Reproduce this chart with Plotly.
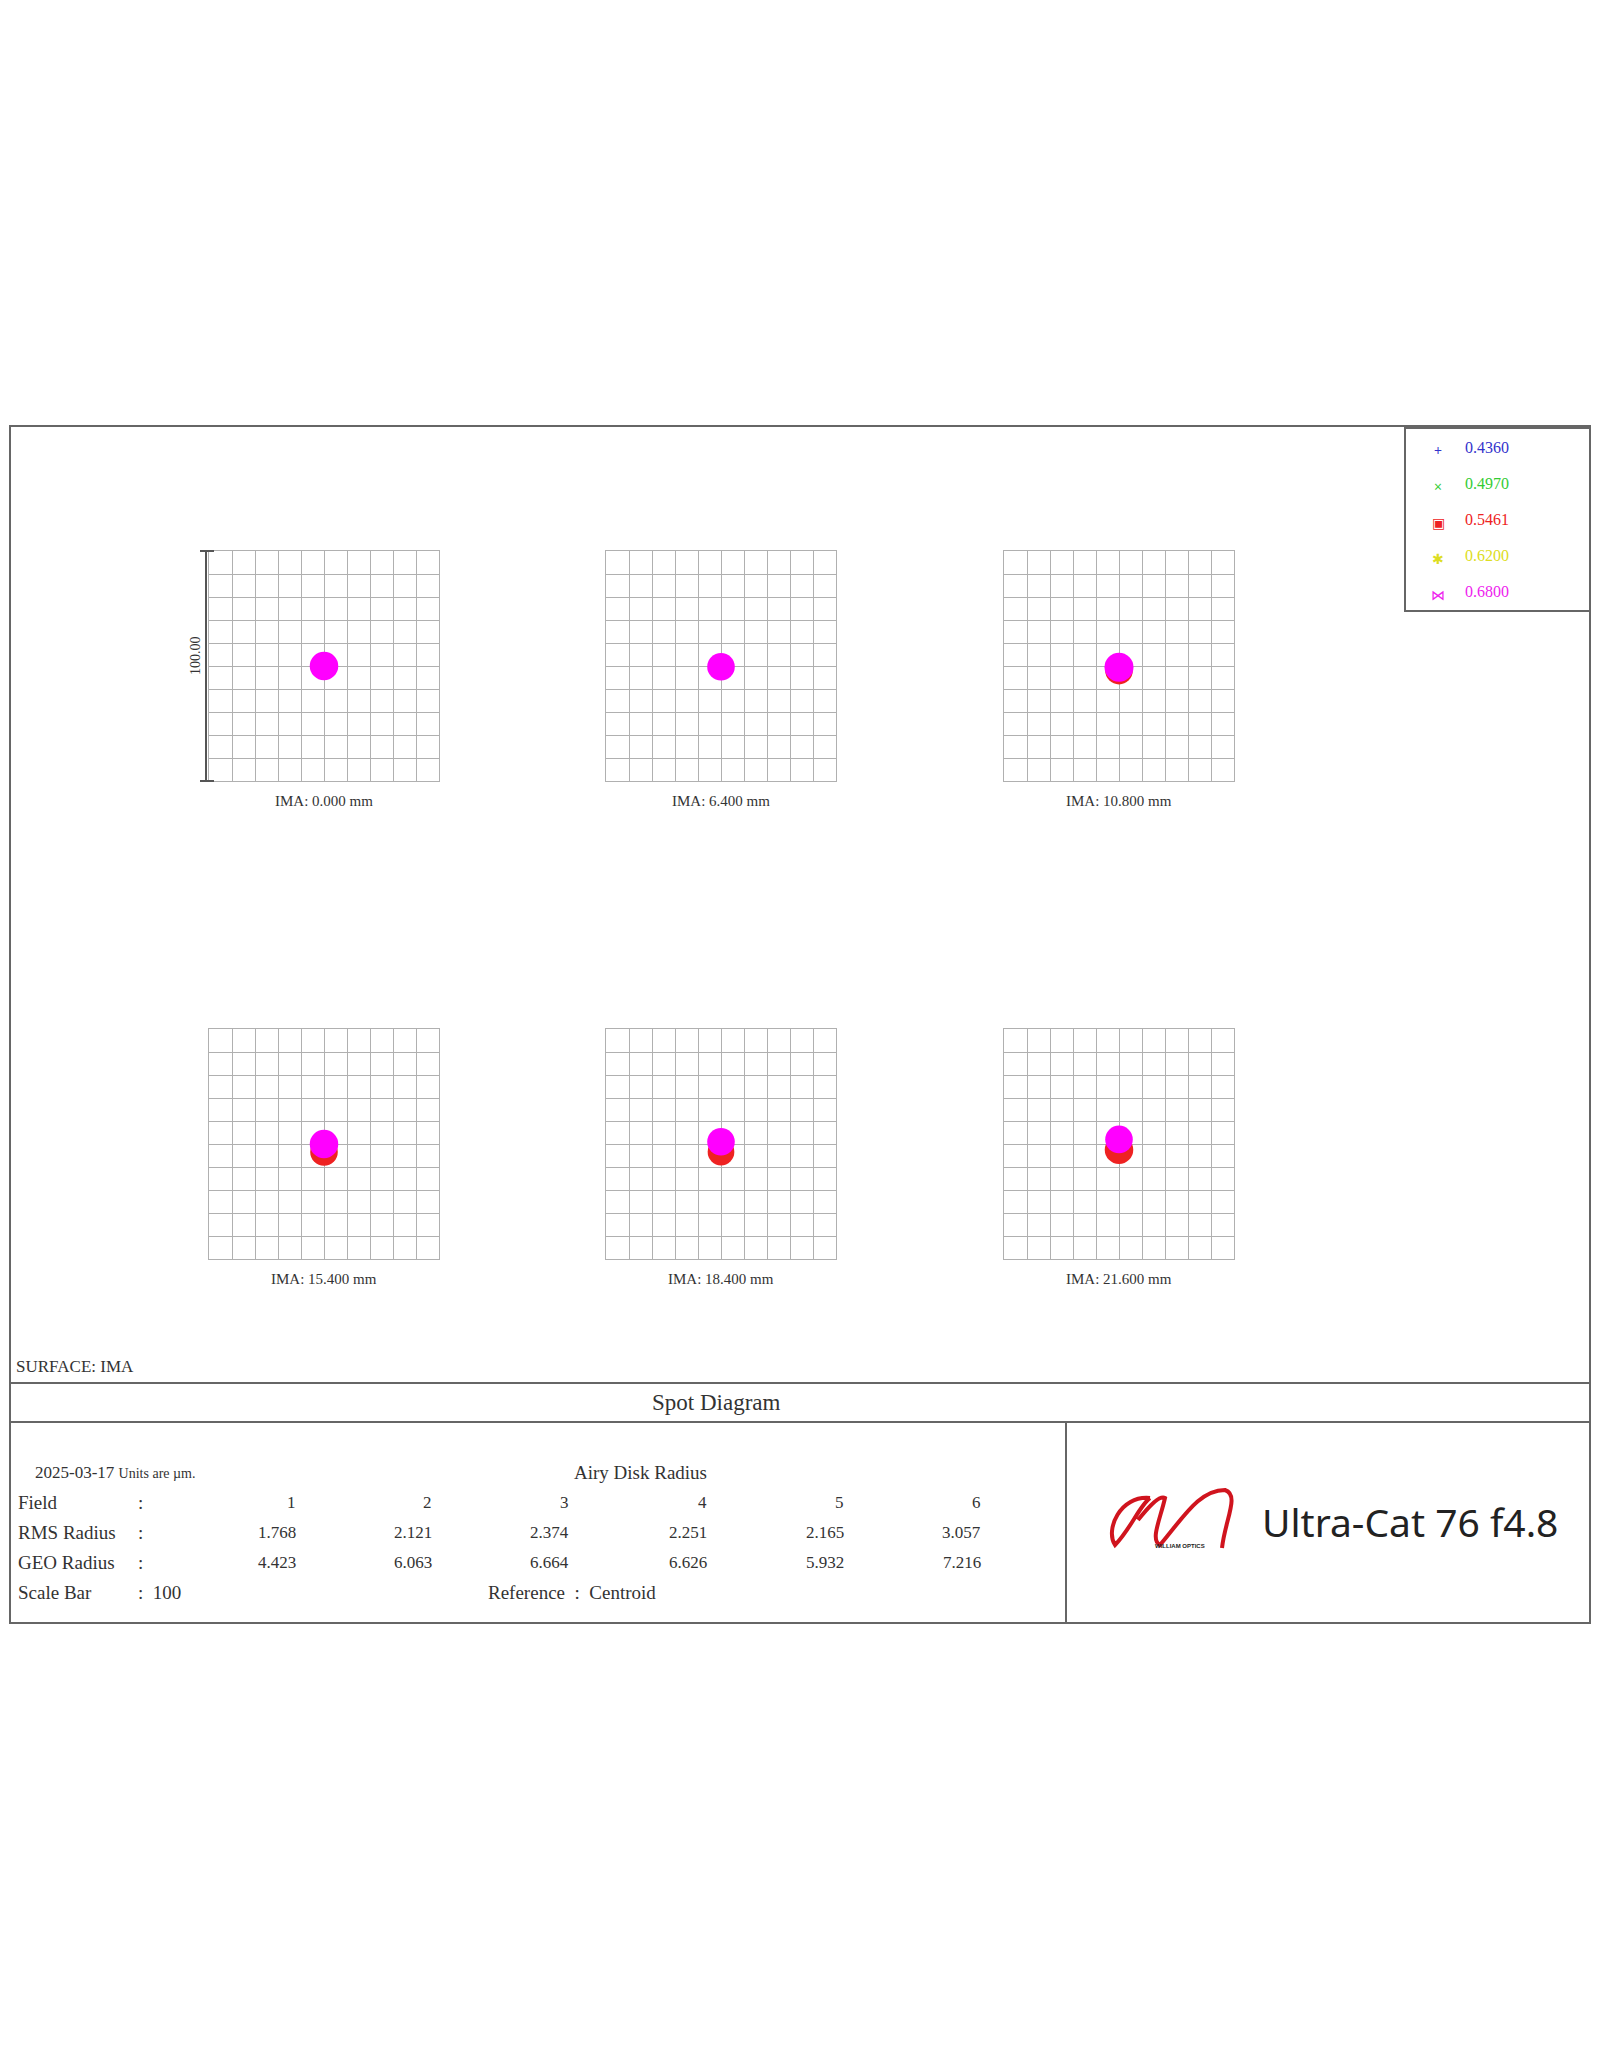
import plotly.graph_objects as go

W, H = 1600, 2048
fields = ["1", "2", "3", "4", "5", "6"]
ima_labels = ["IMA: 0.000 mm", "IMA: 6.400 mm", "IMA: 10.800 mm",
              "IMA: 15.400 mm", "IMA: 18.400 mm", "IMA: 21.600 mm"]
rms_radius = ["1.768", "2.121", "2.374", "2.251", "2.165", "3.057"]
geo_radius = ["4.423", "6.063", "6.664", "6.626", "5.932", "7.216"]
wavelengths = ["0.4360", "0.4970", "0.5461", "0.6200", "0.6800"]
wl_colors = ["#3333cc", "#33cc33", "#ee2222", "#dddd22", "#ee22ee"]
wl_symbols = ["+", "×", "▣", "✱", "⋈"]
# spot centroid y offsets (µm) and radius (µm) for red (0.5461) and magenta (0.6800)
red_dy = [0.0, -0.5, -2.0, -3.5, -3.5, -2.5]
red_r = [5.5, 5.5, 6.0, 6.0, 5.8, 6.2]
mag_dy = [0.0, -0.3, -0.5, 0.0, 1.0, 2.0]
mag_r = [6.2, 6.0, 6.3, 6.2, 6.0, 6.0]

OFF = 8
def px(x): return (x - OFF) / W
def py(y): return 1 - (y - OFF) / H

fig = go.Figure()
cols = [(209, 439), (606, 836), (1004, 1234)]
rows = [(551, 781), (1029, 1259)]
layout = {}
ann = []
shapes = []
for i in range(6):
    r, c = divmod(i, 3)
    x0, x1 = cols[c]; y0, y1 = rows[r]
    n = "" if i == 0 else str(i + 1)
    layout["xaxis" + n] = dict(domain=[px(x0), px(x1)], range=[-50, 50], dtick=10,
        showgrid=True, gridcolor="#b0b0b0", gridwidth=1, showticklabels=False,
        zeroline=False, showline=True, linecolor="#b0b0b0", mirror=True,
        anchor="y" + n, fixedrange=True)
    layout["yaxis" + n] = dict(domain=[py(y1), py(y0)], range=[-50, 50], dtick=10,
        showgrid=True, gridcolor="#b0b0b0", gridwidth=1, showticklabels=False,
        zeroline=False, showline=True, linecolor="#b0b0b0", mirror=True,
        anchor="x" + n, fixedrange=True)
    scale = (x1 - x0) / 100
    fig.add_trace(go.Scatter(x=[0], y=[red_dy[i]], mode="markers", xaxis="x" + n, yaxis="y" + n,
        marker=dict(size=2 * red_r[i] * scale, color="#ee2222", line=dict(width=0)), showlegend=False))
    fig.add_trace(go.Scatter(x=[0], y=[mag_dy[i]], mode="markers", xaxis="x" + n, yaxis="y" + n,
        marker=dict(size=2 * mag_r[i] * scale, color="#ff00ff", line=dict(width=0)), showlegend=False))
    ann.append(dict(x=px((x0 + x1) / 2), y=py(y1 + 20), xref="paper", yref="paper",
        text=ima_labels[i], showarrow=False, xanchor="center", yanchor="middle",
        font=dict(family="Liberation Serif", size=15, color="#333")))

# scale bar
shapes.append(dict(type="line", xref="paper", yref="paper", x0=px(206), x1=px(206), y0=py(551), y1=py(781), line=dict(color="#555", width=2)))
for yy in (551, 781):
    shapes.append(dict(type="line", xref="paper", yref="paper", x0=px(200), x1=px(214), y0=py(yy), y1=py(yy), line=dict(color="#555", width=2)))
ann.append(dict(x=px(195), y=py(656), xref="paper", yref="paper", text="100.00", textangle=-90,
    xanchor="center", yanchor="middle",
    showarrow=False, font=dict(family="Liberation Serif", size=14, color="#333")))

# frames
line = dict(color="#666", width=2)
L, R = 10, 1590
shapes += [
    dict(type="rect", xref="paper", yref="paper", x0=px(L), x1=px(R), y0=py(1623), y1=py(426), line=line),
    dict(type="rect", xref="paper", yref="paper", x0=px(1405), x1=px(R), y0=py(611), y1=py(428), line=line),
    dict(type="line", xref="paper", yref="paper", x0=px(L), x1=px(R), y0=py(1383), y1=py(1383), line=line),
    dict(type="line", xref="paper", yref="paper", x0=px(L), x1=px(R), y0=py(1422), y1=py(1422), line=line),
    dict(type="line", xref="paper", yref="paper", x0=px(1066), x1=px(1066), y0=py(1422), y1=py(1623), line=line),
]
# legend
for k, (wl, colr, sym) in enumerate(zip(wavelengths, wl_colors, wl_symbols)):
    yy = 447 + k * 36
    ann.append(dict(x=px(1438), y=py(yy + 3), xref="paper", yref="paper", text=sym, showarrow=False,
        xanchor="center", yanchor="middle", font=dict(size=14, color=colr)))
    ann.append(dict(x=px(1463), y=py(yy), xref="paper", yref="paper", text=wl, showarrow=False,
        xanchor="left", yanchor="middle",
        font=dict(family="Liberation Serif", size=16, color=colr)))

tf = dict(family="Liberation Serif", size=18, color="#333")
def t(x, y, s, xa="left", size=None):
    f = dict(tf)
    if size: f["size"] = size
    ann.append(dict(x=px(x), y=py(y), xref="paper", yref="paper", text=s, showarrow=False,
                    xanchor=xa, yanchor="middle", font=f))
t(14, 1366, "SURFACE: IMA", size=17)
t(716, 1402, "Spot Diagram", xa="center", size=23)
t(33, 1472, "2025-03-17 <span style='font-size:14px'>Units are µm.</span>", size=17)
t(640, 1472, "Airy Disk Radius", xa="center", size=19)
t(16, 1502, "Field", size=19); t(136, 1502, ":", size=19)
t(16, 1532, "RMS Radius", size=19); t(136, 1532, ":", size=19)
t(16, 1562, "GEO Radius", size=19); t(136, 1562, ":", size=19)
t(16, 1592, "Scale Bar", size=19); t(136, 1592, ":  100", size=19)
t(486, 1592, "Reference  :  Centroid", size=19)
colx = [298, 434, 571, 709, 846, 983]
for j in range(6):
    t(colx[j], 1502, fields[j], xa="right", size=17)
    t(colx[j], 1532, rms_radius[j], xa="right", size=17)
    t(colx[j], 1562, geo_radius[j], xa="right", size=17)

# logo
t(1260, 1521, "Ultra-Cat 76 f4.8", size=39)
ann[-1]["font"] = dict(family="Noto Sans", size=39, color="#222")
def P(s):
    out = []
    for tok in s.split():
        if "," in tok:
            a, b = tok.split(",")
            out.append(f"{px(float(a))},{py(float(b))}")
        else:
            out.append(tok)
    return " ".join(out)
shapes.append(dict(type="path", xref="paper", yref="paper", line=dict(color="#d0141e", width=4),
    path=P("M 1150,1498 C 1120,1495 1105,1530 1115,1545 C 1130,1530 1140,1505 1150,1498 "
           "M 1138,1520 C 1150,1505 1160,1495 1165,1498 C 1160,1520 1150,1540 1160,1545 "
           "C 1185,1515 1200,1490 1225,1490 C 1240,1495 1225,1520 1222,1548")))
ann.append(dict(x=px(1180), y=py(1546), xref="paper", yref="paper", text="<b>WILLIAM OPTICS</b>", showarrow=False,
    xanchor="center", yanchor="middle", font=dict(family="Liberation Sans", size=6, color="#222")))

fig.update_layout(width=W, height=H, margin=dict(l=0, r=0, t=0, b=0), plot_bgcolor="white",
    paper_bgcolor="white", showlegend=False, annotations=ann, shapes=shapes, **layout)
fig.write_html("out.html")
